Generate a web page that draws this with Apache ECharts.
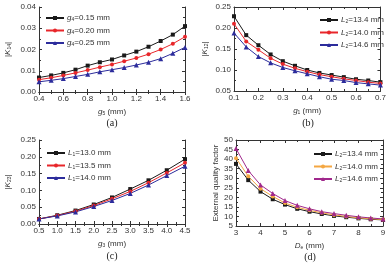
<!DOCTYPE html>
<html>
<head>
<meta charset="utf-8">
<script src="https://cdn.jsdelivr.net/npm/echarts@6/dist/echarts.min.js"></script>
<style>
  html, body { margin: 0; padding: 0; background: #fff; }
  #chart { width: 389px; height: 266px; }
</style>
</head>
<body>
<div id="chart"></div>
<script>
// (a) |K14| vs g5
const xA = [0.4, 0.5, 0.6, 0.7, 0.8, 0.9, 1.0, 1.1, 1.2, 1.3, 1.4, 1.5, 1.6]
const namesA = ['g4=0.15 mm', 'g4=0.20 mm', 'g4=0.25 mm']
const a1 = [0.0068, 0.0078, 0.0090, 0.0105, 0.0124, 0.0140, 0.0153, 0.0172, 0.0190, 0.0213, 0.0240, 0.0270, 0.0310]
const a2 = [0.0058, 0.0067, 0.0078, 0.0090, 0.0103, 0.0117, 0.0130, 0.0145, 0.0160, 0.0178, 0.0200, 0.0227, 0.0260]
const a3 = [0.0048, 0.0055, 0.0063, 0.0073, 0.0083, 0.0095, 0.0105, 0.0115, 0.0127, 0.0140, 0.0157, 0.0182, 0.0210]

// (b) |K12| vs g1
const xB = [0.1, 0.15, 0.2, 0.25, 0.3, 0.35, 0.4, 0.45, 0.5, 0.55, 0.6, 0.65, 0.7]
const namesB = ['L2=13.4 mm', 'L2=14.0 mm', 'L2=14.6 mm']
const b1 = [0.228, 0.183, 0.159, 0.137, 0.121, 0.110, 0.100, 0.093, 0.088, 0.083, 0.078, 0.075, 0.071]
const b2 = [0.210, 0.168, 0.148, 0.128, 0.114, 0.104, 0.096, 0.089, 0.084, 0.079, 0.075, 0.071, 0.068]
const b3 = [0.188, 0.155, 0.132, 0.117, 0.106, 0.098, 0.091, 0.084, 0.078, 0.075, 0.070, 0.067, 0.064]

// (c) |K23| vs g3
const xC = [0.5, 1.0, 1.5, 2.0, 2.5, 3.0, 3.5, 4.0, 4.5]
const namesC = ['L1=13.0 mm', 'L1=13.5 mm', 'L1=14.0 mm']
const c1 = [0.015, 0.026, 0.040, 0.058, 0.079, 0.104, 0.130, 0.160, 0.193]
const c2 = [0.015, 0.025, 0.038, 0.055, 0.075, 0.097, 0.123, 0.152, 0.182]
const c3 = [0.015, 0.024, 0.036, 0.052, 0.070, 0.091, 0.116, 0.144, 0.172]

// (d) external quality factor vs De (trailing spaces keep names apart from (b))
const xD = [3, 3.5, 4, 4.5, 5, 5.5, 6, 6.5, 7, 7.5, 8, 8.5, 9]
const namesD = ['L2=13.4 mm ', 'L2=14.0 mm ', 'L2=14.6 mm ']
const d1 = [37.5, 29, 23, 19, 16.2, 14, 12.5, 11.3, 10.3, 9.6, 9.0, 8.5, 8.2]
const d2 = [40.5, 31, 24.5, 20.5, 17, 14.8, 13.2, 11.9, 10.8, 10.0, 9.3, 8.8, 8.4]
const d3 = [45.5, 34, 26.5, 22, 18.3, 15.8, 14, 12.5, 11.5, 10.6, 9.8, 9.2, 8.7]

const FONT = 'Liberation Sans'
const rich = {
  i: { fontStyle: 'italic', fontSize: 8, fontFamily: FONT, color: '#333' },
  s: { fontSize: 5, fontFamily: FONT, color: '#333', padding: [4, 0, 0, 0] },
  n: { fontSize: 8, fontFamily: FONT, color: '#333' }
}
// "g4=0.15 mm" -> italic g, subscript 4, rest normal
const fmtName = (name) => '{i|' + name[0] + '}{s|' + name[1] + '}{n|' + name.slice(2).trim() + '}'

const grids = [
  { left: 39, top: 7, width: 146, height: 85 },
  { left: 234, top: 7, width: 149, height: 84 },
  { left: 39, top: 140, width: 146, height: 84 },
  { left: 236, top: 140, width: 147, height: 86 }
]

const labelStyle = { fontSize: 8, fontFamily: FONT, color: '#333', margin: 3 }
const lineStyle = { lineStyle: { color: '#333', width: 1 } }
const tick = { inside: true, length: 3, lineStyle: { color: '#333' } }
const minor = { show: true, splitNumber: 2, length: 2, lineStyle: { color: '#333' } }

const xAxes = []
const yAxes = []
const makeAxes = (gi, xmin, xmax, xint, xdec, xname, ymin, ymax, yint, ydec, yname, ygap) => {
  xAxes.push({
    type: 'value', gridIndex: gi, min: xmin, max: xmax, interval: xint,
    axisLine: lineStyle, splitLine: { show: false }, axisTick: tick, minorTick: minor,
    axisLabel: Object.assign({ formatter: v => v.toFixed(xdec), showMinLabel: true, showMaxLabel: true }, labelStyle),
    name: xname, nameLocation: 'middle', nameGap: 15,
    nameTextStyle: { rich: rich }
  })
  // top edge of the frame
  xAxes.push({
    type: 'value', gridIndex: gi, position: 'top', min: xmin, max: xmax, interval: xint,
    axisLine: lineStyle, splitLine: { show: false }, axisLabel: { show: false },
    axisTick: tick, minorTick: minor
  })
  yAxes.push({
    type: 'value', gridIndex: gi, min: ymin, max: ymax, interval: yint,
    axisLine: lineStyle, splitLine: { show: false }, axisTick: tick, minorTick: minor,
    axisLabel: Object.assign({ formatter: v => v.toFixed(ydec), showMinLabel: true, showMaxLabel: true }, labelStyle),
    name: yname, nameLocation: 'middle', nameGap: ygap,
    nameTextStyle: { rich: rich, fontSize: 8, fontFamily: FONT, color: '#333' }
  })
  // right edge of the frame
  yAxes.push({
    type: 'value', gridIndex: gi, position: 'right', min: ymin, max: ymax, interval: yint,
    axisLine: lineStyle, splitLine: { show: false }, axisLabel: { show: false },
    axisTick: tick, minorTick: minor
  })
}

makeAxes(0, 0.4, 1.6, 0.2, 1, '{i|g}{s|5}{n| (mm)}', 0, 0.04, 0.01, 2, '{n||}{i|K}{s|14}{n||}', 27)
makeAxes(1, 0.1, 0.7, 0.1, 1, '{i|g}{s|1}{n| (mm)}', 0.05, 0.25, 0.05, 2, '{n||}{i|K}{s|12}{n||}', 25)
makeAxes(2, 0.5, 4.5, 0.5, 1, '{i|g}{s|3}{n| (mm)}', 0, 0.25, 0.05, 2, '{n||}{i|K}{s|23}{n||}', 27)
makeAxes(3, 3, 9, 1, 0, '{i|D}{s|e}{n| (mm)}', 5, 50, 5, 0, 'External quality factor', 14)

const COLORS = {
  black: '#1a1a1a', red: '#e8262a', blue: '#2c2c9c',
  orange: '#f4a742', purple: '#a0288c'
}

const mkSeries = (gi, name, xs, ys, color, symbol) => ({
  name: name, type: 'line', xAxisIndex: gi * 2, yAxisIndex: gi * 2,
  data: xs.map((x, k) => [x, ys[k]]),
  symbol: symbol, symbolSize: symbol === 'triangle' ? 5 : 4,
  lineStyle: { width: 1, color: color },
  itemStyle: { color: color }
})

const series = [
  mkSeries(0, namesA[0], xA, a1, COLORS.black, 'rect'),
  mkSeries(0, namesA[1], xA, a2, COLORS.red, 'circle'),
  mkSeries(0, namesA[2], xA, a3, COLORS.blue, 'triangle'),
  mkSeries(1, namesB[0], xB, b1, COLORS.black, 'rect'),
  mkSeries(1, namesB[1], xB, b2, COLORS.red, 'circle'),
  mkSeries(1, namesB[2], xB, b3, COLORS.blue, 'triangle'),
  mkSeries(2, namesC[0], xC, c1, COLORS.black, 'rect'),
  mkSeries(2, namesC[1], xC, c2, COLORS.red, 'circle'),
  mkSeries(2, namesC[2], xC, c3, COLORS.blue, 'triangle'),
  mkSeries(3, namesD[0], xD, d1, COLORS.black, 'rect'),
  mkSeries(3, namesD[1], xD, d2, COLORS.orange, 'circle'),
  mkSeries(3, namesD[2], xD, d3, COLORS.purple, 'triangle')
]

const mkLegend = (data, pos) => Object.assign({
  data: data, orient: 'vertical', itemWidth: 18, itemHeight: 5, itemGap: 4,
  formatter: fmtName, textStyle: { rich: rich, fontSize: 8, padding: [0, 0, 0, -2] },
  selectedMode: false
}, pos)

const legend = [
  mkLegend(namesA, { left: 40, top: 9 }),
  mkLegend(namesB, { left: 314, top: 11 }),
  mkLegend(namesC, { left: 41, top: 144 }),
  mkLegend(namesD, { left: 308, top: 145 })
]

const caption = (x, y, t) => ({
  type: 'text', x: x, y: y,
  style: { text: t, fontSize: 10, fontFamily: 'Liberation Serif', fill: '#222', align: 'center', verticalAlign: 'middle' }
})

const chart = echarts.init(document.getElementById('chart'))
chart.setOption({
  animation: false,
  grid: grids,
  xAxis: xAxes,
  yAxis: yAxes,
  legend: legend,
  series: series,
  graphic: [
    caption(112, 123, '(a)'),
    caption(308, 123, '(b)'),
    caption(112, 256, '(c)'),
    caption(310, 257, '(d)')
  ]
})
</script>
</body>
</html>
